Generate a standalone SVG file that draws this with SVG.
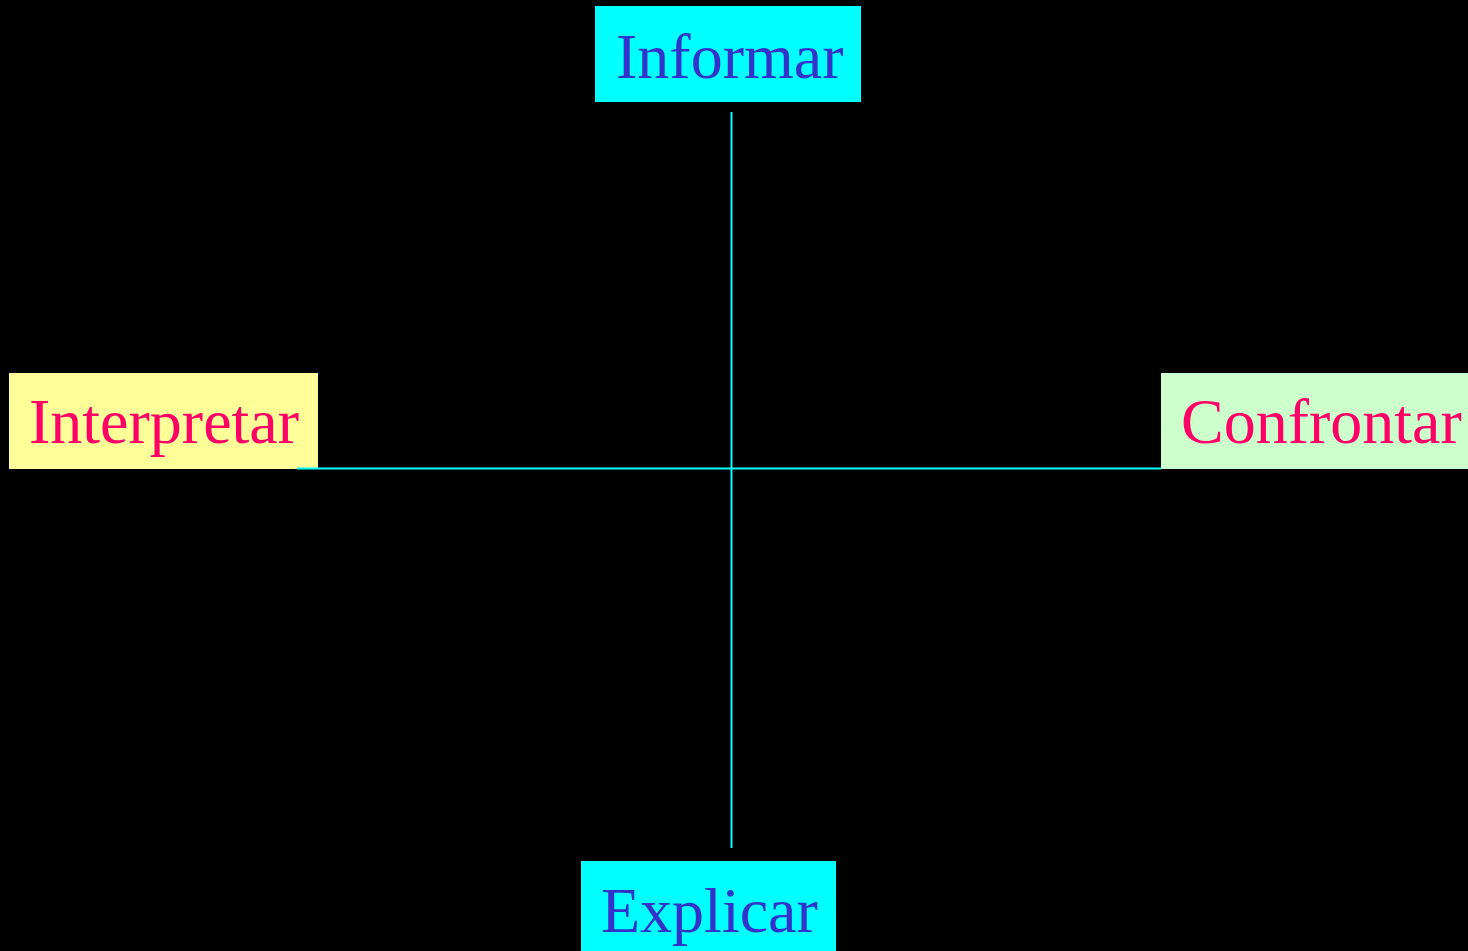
<svg xmlns="http://www.w3.org/2000/svg" width="1468" height="951" viewBox="0 0 1468 951">
  <style>
    .lbl { font-family: "Liberation Serif", "Times New Roman", serif; font-size: 64px; }
    .blue { fill: #3333CC; }
    .red { fill: #FF0066; }
    .link { stroke: #00FFFF; stroke-width: 2; fill: none; }
  </style>
  <rect x="0" y="0" width="1468" height="951" fill="#000000"/>
  <g id="node-informar">
    <rect x="595" y="6" width="266" height="96" fill="#00FFFF"/>
    <text class="lbl blue" x="616" y="78">Informar</text>
  </g>
  <g id="node-interpretar">
    <rect x="9" y="373" width="309" height="96" fill="#FFFF99"/>
    <text class="lbl red" x="29" y="443">Interpretar</text>
  </g>
  <g id="node-confrontar">
    <rect x="1161" y="373" width="307" height="96" fill="#CCFFCC"/>
    <text class="lbl red" x="1181" y="443">Confrontar</text>
  </g>
  <g id="node-explicar">
    <rect x="581" y="861" width="255" height="90" fill="#00FFFF"/>
    <text class="lbl blue" x="601" y="932">Explicar</text>
  </g>
  <g id="connectors">
    <line class="link" x1="731.5" y1="112" x2="731.5" y2="848"/>
    <line class="link" x1="297" y1="468.5" x2="1161" y2="468.5"/>
  </g>
</svg>
